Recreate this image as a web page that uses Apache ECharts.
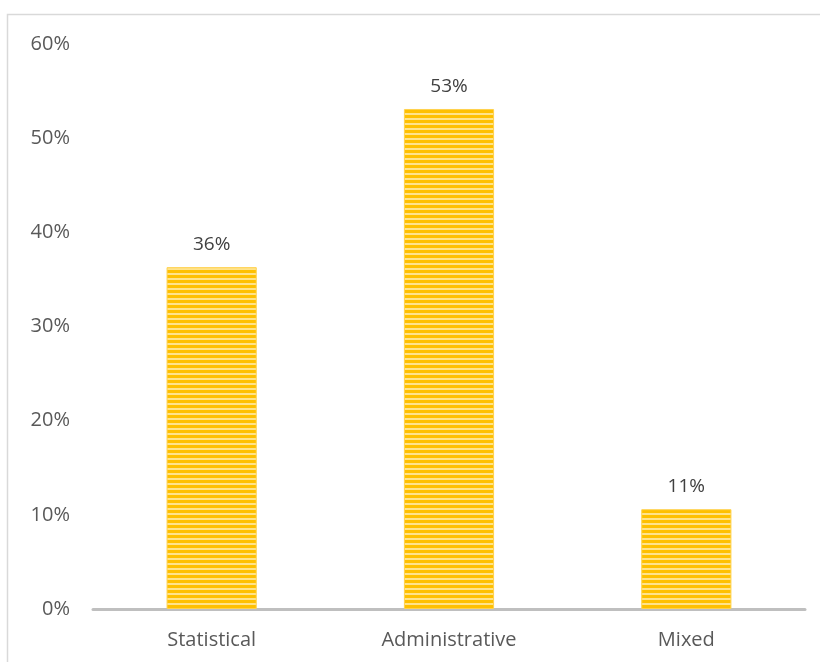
<!DOCTYPE html>
<html>
<head>
<meta charset="utf-8">
<script src="https://cdn.jsdelivr.net/npm/echarts@6/dist/echarts.min.js"></script>
<style>
  html, body { margin: 0; padding: 0; background: #fff; }
  #chart { width: 820px; height: 662px; }
</style>
</head>
<body>
<div id="chart"></div>
<script>
// data
const categories = ['Statistical', 'Administrative', 'Mixed']
const shares = [36.3, 53.1, 10.6]
const yTicks = [0, 10, 20, 30, 40, 50, 60]

// striped gold fill like the original
const stripe = document.createElement('canvas')
stripe.width = 8
stripe.height = 5
const sctx = stripe.getContext('2d')
sctx.fillStyle = '#FFC000'
sctx.fillRect(0, 0, 8, 5)
sctx.fillStyle = '#FFE38A'
sctx.fillRect(0, 3, 8, 2)

const chart = echarts.init(document.getElementById('chart'))

const option = {
  animation: false,
  graphic: [{
    type: 'rect',
    shape: { x: 7.5, y: 14.5, width: 830, height: 670 },
    style: { fill: 'none', stroke: '#D9D9D9', lineWidth: 1.5 },
    silent: true
  }],
  grid: { left: 93, right: 15, top: 44, bottom: 53 },
  xAxis: {
    type: 'category',
    data: categories,
    axisTick: { show: false },
    axisLine: { lineStyle: { color: '#BFBFBF', width: 3 } },
    axisLabel: { color: '#595959', fontSize: 20, margin: 21, fontFamily: 'Open Sans' }
  },
  yAxis: {
    type: 'value',
    min: yTicks[0],
    max: yTicks[yTicks.length - 1],
    interval: 10,
    splitLine: { show: false },
    axisLine: { show: false },
    axisTick: { show: false },
    axisLabel: {
      color: '#595959', fontSize: 20, margin: 23, fontFamily: 'Open Sans',
      formatter: v => v + '%'
    }
  },
  series: [{
    type: 'bar',
    data: shares,
    barWidth: '38%',
    itemStyle: {
      color: { image: stripe, repeat: 'repeat' },
      borderColor: '#FFD24D',
      borderWidth: 1
    },
    label: {
      show: true,
      position: 'top',
      distance: 13,
      color: '#404040',
      fontSize: 19,
      fontFamily: 'Open Sans',
      formatter: p => Math.round(p.value) + '%'
    }
  }]
}
chart.setOption(option)
</script>
</body>
</html>
